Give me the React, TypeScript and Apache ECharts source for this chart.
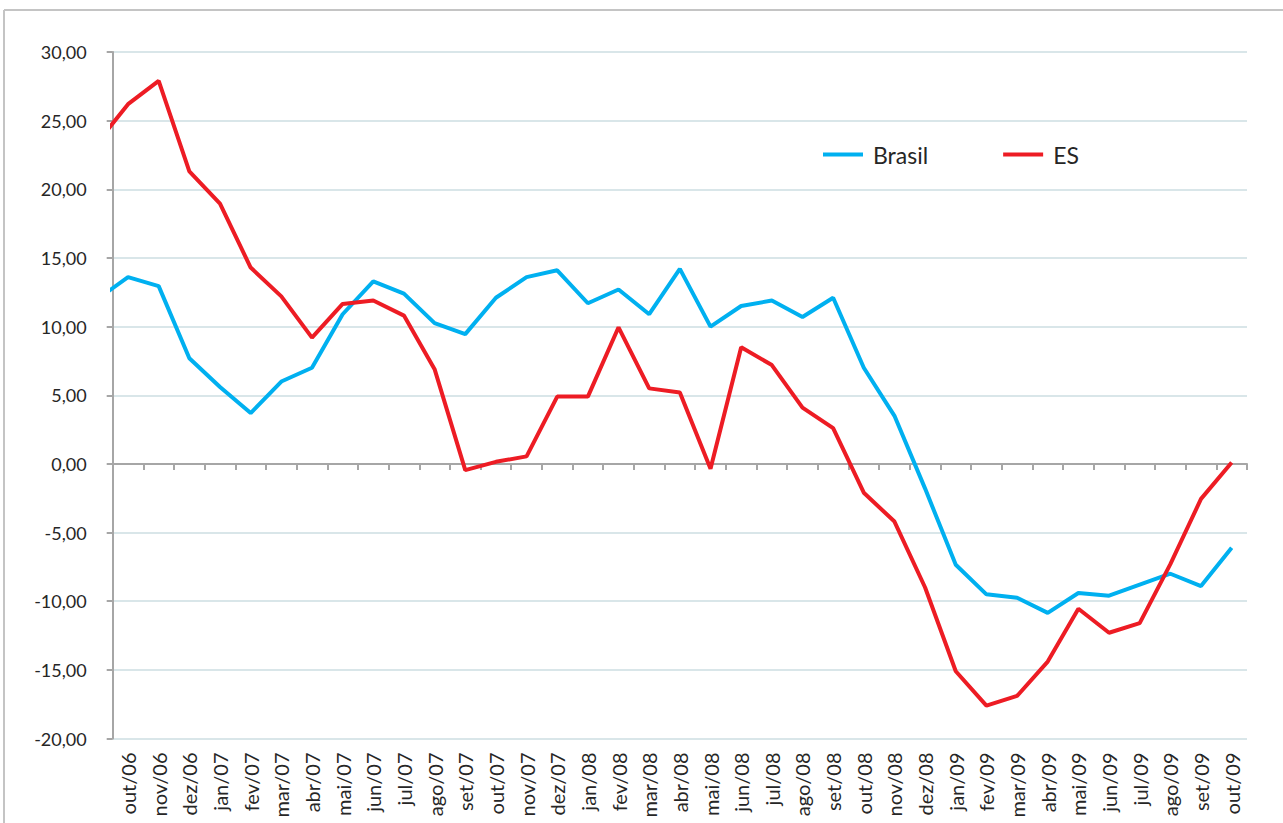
import React, { useEffect, useRef } from "react";
import * as echarts from "echarts";

const labels = [
  "out/06", "nov/06", "dez/06", "jan/07", "fev/07", "mar/07", "abr/07", "mai/07", "jun/07", "jul/07",
  "ago/07", "set/07", "out/07", "nov/07", "dez/07", "jan/08", "fev/08", "mar/08", "abr/08", "mai/08",
  "jun/08", "jul/08", "ago/08", "set/08", "out/08", "nov/08", "dez/08", "jan/09", "fev/09", "mar/09",
  "abr/09", "mai/09", "jun/09", "jul/09", "ago/09", "set/09", "out/09",
];

// value of the month before out/06 (set/06), only partly visible at the left edge
const brasilLead = 12.0;
const esLead = 23.4;

const brasil = [
  13.6, 12.95, 7.7, 5.6, 3.7, 6.0, 7.0, 10.9, 13.3, 12.4,
  10.25, 9.45, 12.1, 13.6, 14.1, 11.7, 12.7, 10.9, 14.2, 10.0,
  11.5, 11.9, 10.7, 12.1, 7.0, 3.5, -1.8, -7.35, -9.5, -9.75,
  -10.85, -9.4, -9.6, -8.8, -8.0, -8.9, -6.1,
];

const es = [
  26.2, 27.9, 21.3, 18.95, 14.3, 12.2, 9.2, 11.65, 11.9, 10.8,
  6.9, -0.45, 0.15, 0.55, 4.9, 4.9, 9.95, 5.5, 5.2, -0.35,
  8.5, 7.2, 4.1, 2.6, -2.1, -4.2, -9.0, -15.1, -17.6, -16.9,
  -14.4, -10.55, -12.3, -11.6, -7.3, -2.55, 0.1,
];

const yMin = -20;
const yMax = 30;
const yStep = 5;

const FONT = "Lato";
const TEXT = "#262626";
const AXIS = "#a6a6a6";
const GRIDC = "#d9e6e9";

function toPairs(lead: number, vals: number[]) {
  return [[-1, lead], ...vals.map((v, i) => [i, v])];
}

export default function App() {
  const ref = useRef<HTMLDivElement>(null);
  useEffect(() => {
    if (!ref.current) return;
    const chart = echarts.init(ref.current, undefined, { renderer: "svg" });
    chart.setOption({
      animation: false,
      backgroundColor: "#ffffff",
      grid: { left: 112.7, right: 36, top: 52, bottom: 84.5, containLabel: false },
      legend: {
        data: ["Brasil", "ES"],
        left: 823,
        top: 143,
        padding: 0,
        icon: "rect",
        itemWidth: 40,
        itemHeight: 4,
        itemGap: 75,
        textStyle: { fontFamily: FONT, fontSize: 23, color: TEXT, padding: [0, 0, 0, 5] },
      },
      xAxis: [
        {
          type: "value",
          min: -0.5,
          max: labels.length - 0.5,
          interval: 1,
          position: "bottom",
          axisLine: { show: true, onZero: true, lineStyle: { color: AXIS, width: 2 } },
          axisTick: { show: true, length: 6, lineStyle: { color: AXIS, width: 2 } },
          axisLabel: { show: false },
          splitLine: { show: false },
        },
        {
          type: "category",
          data: labels,
          boundaryGap: true,
          position: "bottom",
          axisLine: { show: false, onZero: false },
          axisTick: { show: false },
          axisLabel: {
            rotate: 90,
            interval: 0,
            margin: 14,
            fontFamily: FONT,
            fontSize: 20,
            color: TEXT,
          },
          splitLine: { show: false },
        },
      ],
      yAxis: {
        type: "value",
        min: yMin,
        max: yMax,
        interval: yStep,
        position: "left",
        axisLine: { show: true, onZero: false, lineStyle: { color: AXIS, width: 2 } },
        axisTick: { show: true, length: 6, lineStyle: { color: AXIS, width: 2 } },
        axisLabel: {
          margin: 26,
          fontFamily: FONT,
          fontSize: 18,
          color: TEXT,
          formatter: (v: number) => v.toFixed(2).replace(".", ","),
        },
        splitLine: { show: true, lineStyle: { color: GRIDC, width: 2 } },
      },
      graphic: [
        { type: "line", shape: { x1: 4, y1: 10, x2: 1283, y2: 10 }, style: { stroke: "#c4c4c4", lineWidth: 2 } },
        { type: "line", shape: { x1: 4, y1: 10, x2: 4, y2: 823 }, style: { stroke: "#c4c4c4", lineWidth: 2 } },
      ],
      series: [
        {
          name: "Brasil",
          type: "line",
          xAxisIndex: 0,
          data: toPairs(brasilLead, brasil),
          symbol: "none",
          clip: true,
          color: "#00b0f0",
          lineStyle: { color: "#00b0f0", width: 4 },
        },
        {
          name: "ES",
          type: "line",
          xAxisIndex: 0,
          data: toPairs(esLead, es),
          symbol: "none",
          clip: true,
          color: "#ed1c24",
          lineStyle: { color: "#ed1c24", width: 4 },
        },
      ],
    });
    return () => chart.dispose();
  }, []);
  return (
    <div
      ref={ref}
      style={{ position: "fixed", left: 0, top: 0, width: 1283, height: 823, background: "#fff" }}
    />
  );
}
